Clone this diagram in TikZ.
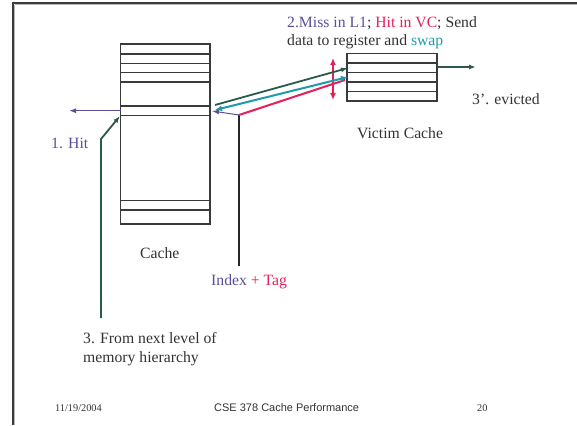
\documentclass[tikz,border=0pt]{standalone}
\usepackage{fontspec}
\setmainfont{Liberation Serif}
\newfontfamily\arialfont{Liberation Sans}
\usetikzlibrary{arrows.meta}
\definecolor{pur}{HTML}{5B4E9A}
\definecolor{crim}{HTML}{E3205A}
\definecolor{tealc}{HTML}{1C9CA8}
\definecolor{dgreen}{HTML}{2A5A4A}
\definecolor{txt}{HTML}{333333}
\definecolor{edge}{HTML}{3A3A3A}
\begin{document}
\begin{tikzpicture}[x=1pt,y=-1pt,
  lbl/.style={anchor=base west,inner sep=0pt,font=\fontsize{15.7}{19}\selectfont,text=txt},
  foot/.style={anchor=base west,inner sep=0pt,font=\fontsize{10.3}{12}\selectfont,text=txt},
  box/.style={draw=edge,line width=1.2pt,inner sep=0pt,fill=white},
  row/.style={draw=edge,line width=1.1pt},
  tip/.style={-{Latex[length=7pt,width=5pt]}},
  dtip/.style={{Latex[length=7pt,width=6pt]}-{Latex[length=7pt,width=6pt]}},
]
\useasboundingbox (0,0) rectangle (577,425);
% slide frame
\draw[gray!55,line width=1pt] (14.8,4.6) -- (577,4.6);
\draw[gray!55,line width=1pt] (14.8,4.6) -- (14.8,425);
\draw[edge,line width=2pt] (12,3) -- (577,3);
\draw[edge,line width=2pt] (13,2) -- (13,425);

% cache
\node[box,minimum width=89.3pt,minimum height=180pt] (cache) at (165.35,134) {};
\foreach \yy in {54,63.3,72.7,82,106,115.3,200.7,210}
  \draw[row] (120.7,\yy) -- (210,\yy);

% victim cache
\node[box,minimum width=90pt,minimum height=47.5pt] (vc) at (392,77.25) {};
\foreach \yy in {63,72.5,82,91.5}
  \draw[row] (347,\yy) -- (437,\yy);

% coordinates
\coordinate (hitsrc) at (120.7,110.7);
\coordinate (hitend) at (69,110.7);
\coordinate (g0) at (101,318);
\coordinate (g1) at (101,139);
\coordinate (g2) at (120,116);
\coordinate (i0) at (239,266);
\coordinate (i1) at (239,115);
\coordinate (cR) at (212,111);
\coordinate (vcRed) at (345,80);
\coordinate (cT) at (215,110);
\coordinate (vcT) at (348,77);
\coordinate (cG) at (215,105);
\coordinate (vcG) at (348,68);
\coordinate (r0) at (333,58);
\coordinate (r1) at (333,100);
\coordinate (e0) at (437,67);
\coordinate (e1) at (476,67);

% connectors
\draw[pur,line width=1.5pt,tip] (hitsrc) -- (hitend);
\draw[dgreen,line width=1.8pt,tip] (g0) -- (g1) -- (g2);
\draw[black!85,line width=2pt] (i0) -- (i1);
\draw[pur,line width=1pt,tip] (i1) -- (cR);
\draw[crim,line width=2pt,dtip] (r0) -- (r1);
\draw[crim,line width=2pt] (i1) -- (vcRed);
\draw[tealc,line width=2pt,dtip] (cT) -- (vcT);
\draw[dgreen,line width=1.8pt,tip] (cG) -- (vcG);
\draw[dgreen,line width=2pt,tip] (e0) -- (e1);

% labels
\node[lbl,text=pur] (hit) at (51,148) {1. Hit};
\node[lbl] (cachelbl) at (140,258) {Cache};
\node[lbl] (idx) at (211,285) {\textcolor{pur}{Index} \textcolor{crim}{+ Tag}};
\node[lbl] (from1) at (83,343.3) {3. From next level of};
\node[lbl] (from2) at (83,362.5) {memory hierarchy};
\node[lbl] (miss1) at (287,27.5) {\textcolor{pur}{2.Miss in L1}; \textcolor{crim}{Hit in VC}; Send};
\node[lbl] (miss2) at (287,46) {data to register and \textcolor{tealc}{swap}};
\node[lbl] (vclbl) at (357,138) {Victim Cache};
\node[lbl] (evict) at (472,104) {3'. evicted};

% footer
\node[foot] (date) at (55,411) {11/19/2004};
\node[foot,font=\arialfont\fontsize{11}{13}\selectfont] (title) at (214,411) {CSE 378 Cache Performance};
\node[foot] (page) at (477,411) {20};
\end{tikzpicture}
\end{document}
